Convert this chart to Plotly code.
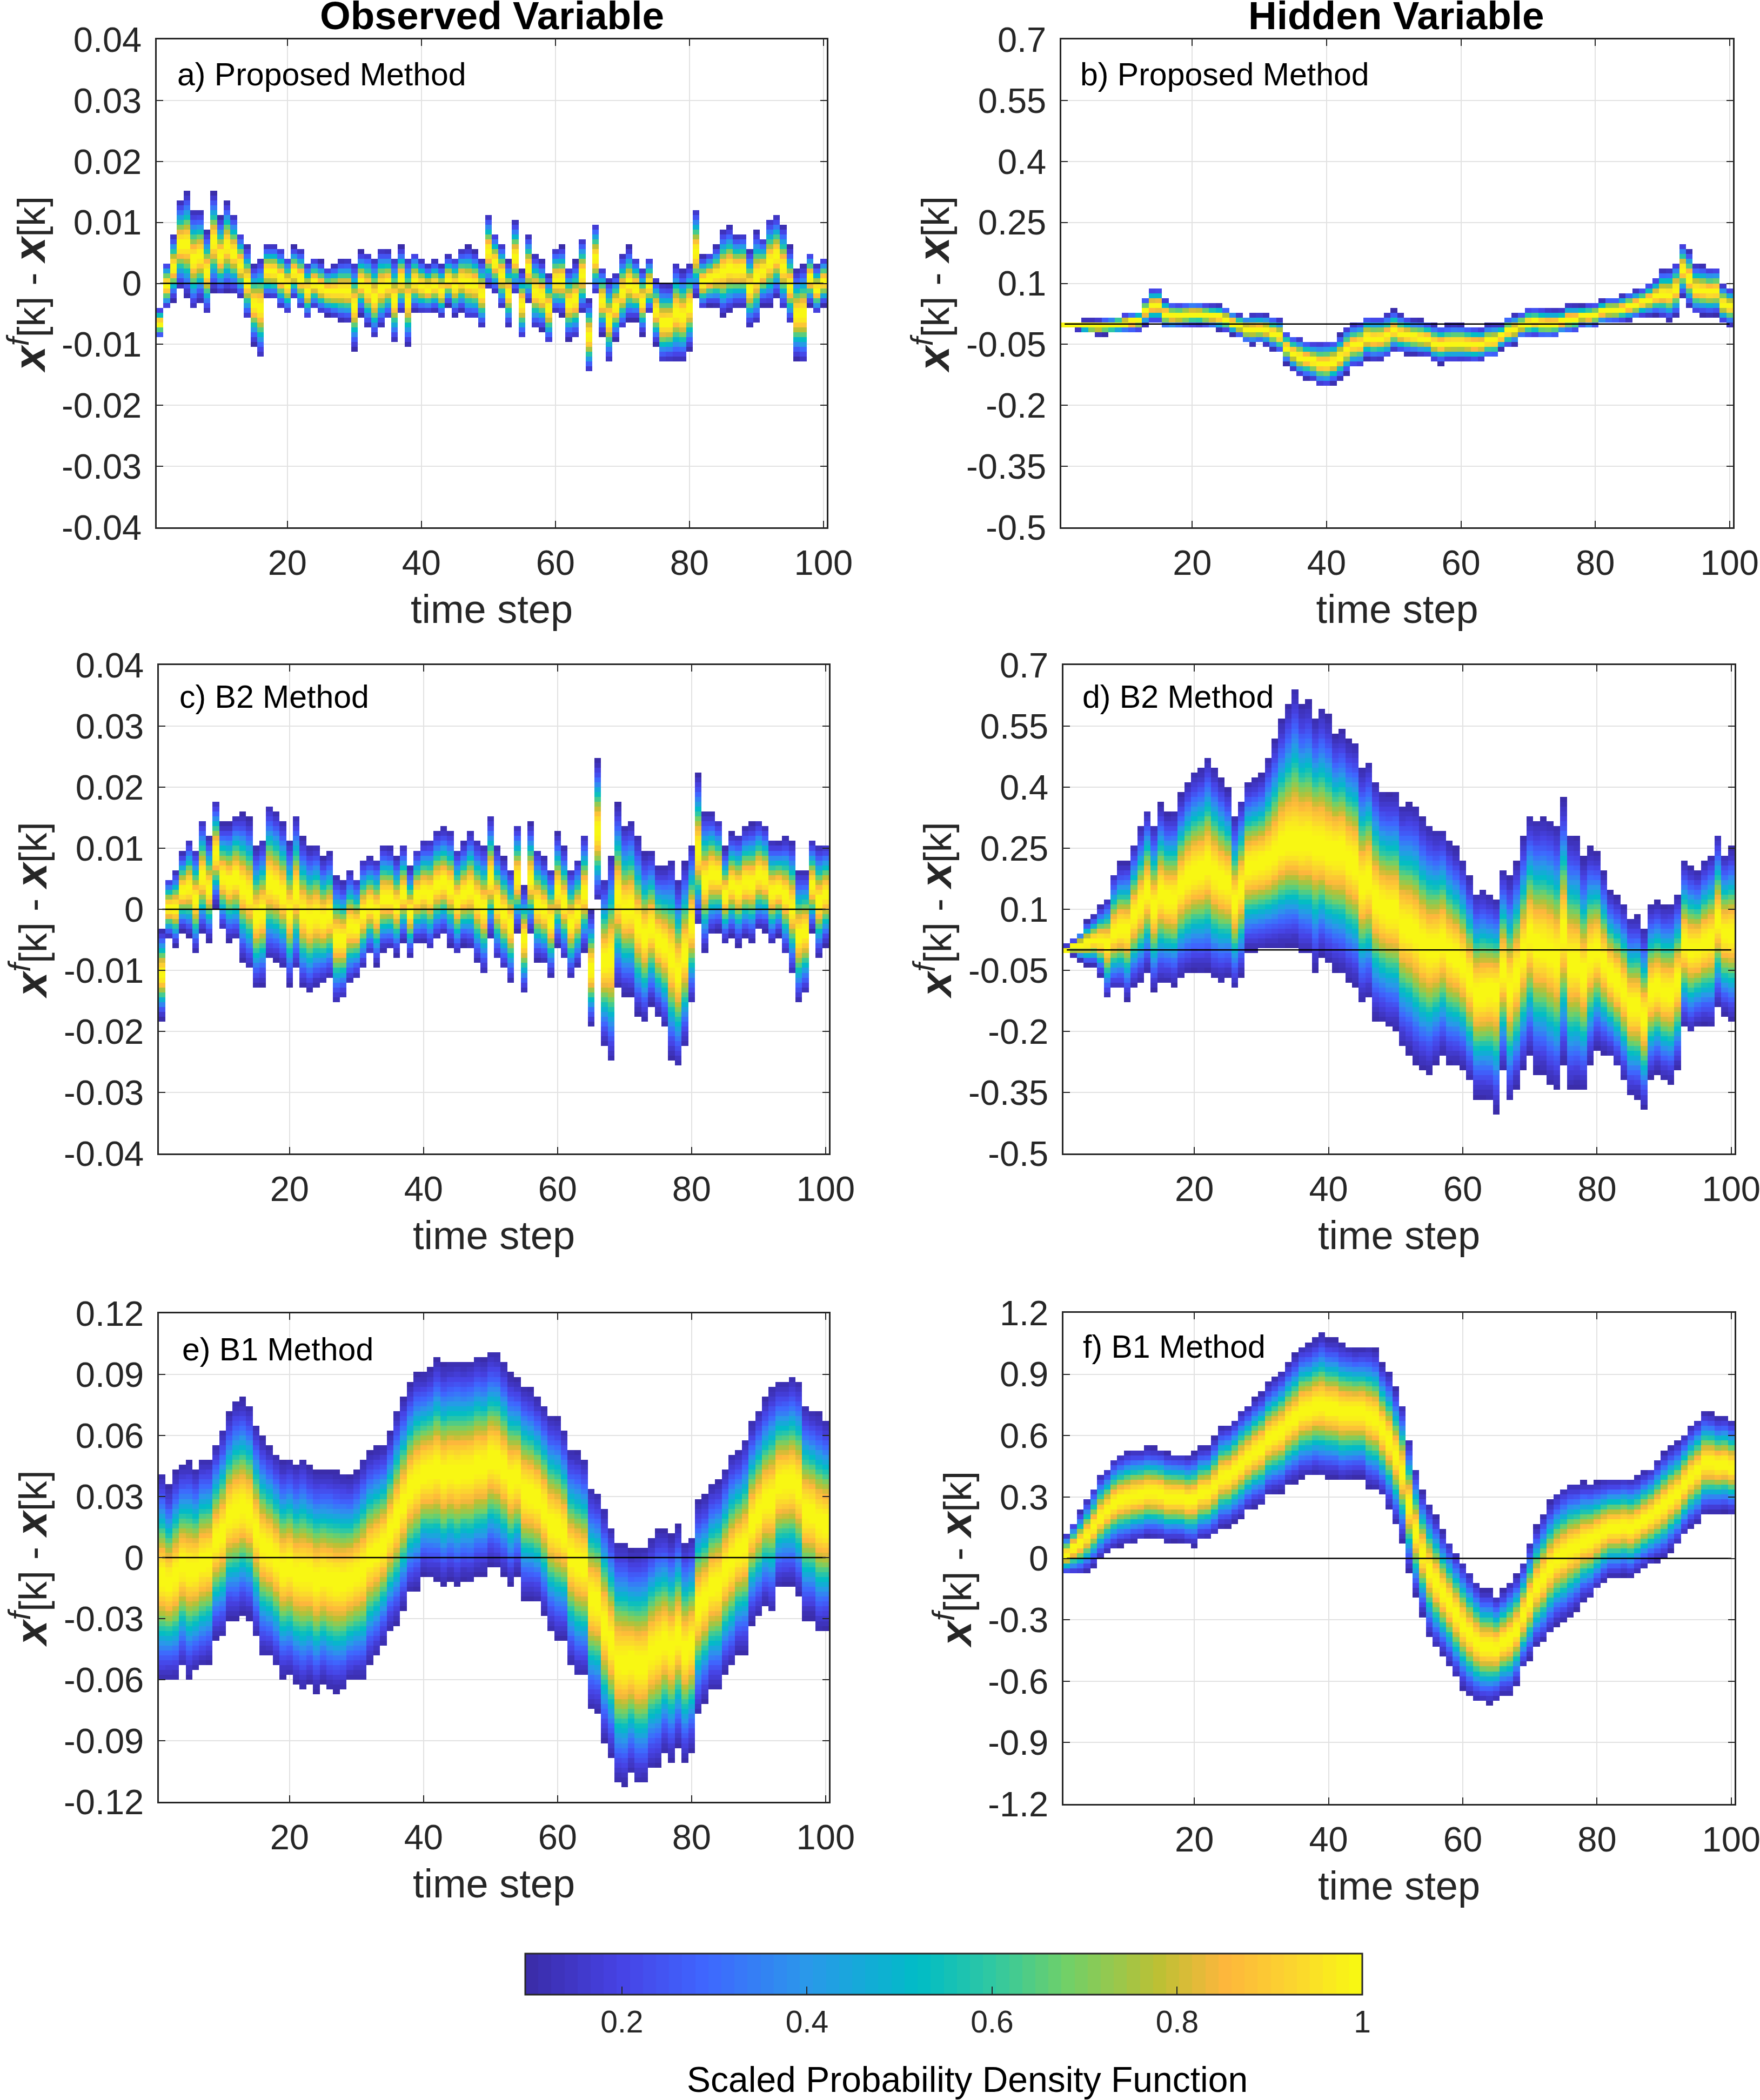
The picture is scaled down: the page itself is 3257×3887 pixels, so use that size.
import numpy as np
import plotly.graph_objects as go

W, H = 3257, 3887
steps = list(range(1, 101))
x_ticks = [20, 40, 60, 80, 100]
zero_x = [1, 100]
zero_y = [0, 0]

# upper / lower edge of the density band at each time step (units of 0.001)
a_hi = [-4,3.5,8,13.7,15,12,12,8.6,14.9,10.9,13.5,11.4,8.4,6.2,3.1,4.2,6.4,6.4,5.8,4.4,6,5.6,3.4,4.2,3.6,2.6,3.1,3.9,4,3.5,5.3,5.2,4.2,5.8,5.6,4.3,6,4.4,5.2,4,3.1,3.8,3.1,4.6,4.3,5.6,6,5.3,4,11.3,8.3,6.6,3.8,10.3,2.2,8,4.7,3.8,1.6,5.8,6.1,2.7,3.6,7.5,-2.6,10,2.7,0.8,1.7,4.8,6,4.3,2.6,4.3,1,0.1,0,3.4,2.2,3.2,12.4,4.5,5.1,6.2,8.9,9.5,8.1,8.3,5.5,8.7,7.5,10.7,11.3,9.5,6,2.2,3,5.2,3,4.2]
a_lo = [-9,-4.2,-2.8,-1,-2.2,-4.2,-3,-4.9,-1.3,-1.9,-1.3,-1.6,-2.5,-5.9,-10,-12.2,-2.5,-2.6,-4.1,-5,-2.5,-4.2,-5.9,-4.1,-4.9,-5.2,-5.7,-6.2,-6.4,-10.9,-5.2,-7.2,-9,-7.2,-5.9,-9.7,-4.9,-10.3,-4.6,-4.9,-4.9,-4.6,-5.6,-3.6,-5.3,-4.6,-5.9,-5.9,-7.3,-0.9,-1.6,-4,-7.1,-1.8,-9.1,-3.2,-7.4,-7.7,-9.9,-4.9,-5.2,-9.3,-9,-4.8,-14.7,-1.8,-8.4,-12.9,-9.3,-7.6,-6.1,-6,-8.4,-4.9,-10,-13.1,-12.9,-12.9,-12.9,-10.9,-2.3,-4.2,-3.6,-3.7,-5.3,-4.6,-3.9,-3.9,-7.1,-6.7,-3.6,-3.7,-2.3,-4.3,-6.7,-12.5,-13,-3.6,-5,-3.6]
b_hi = [6,8,10,11,11,12,15,17,22,26,29,34,66,89,90,63,54,52,54,56,55,51,49,48,42,32,25,22,25,26,24,20,14,-18,-28,-33,-39,-43,-43,-41,-38,-25,-6,4,8,22,20,20,27,35,25,19,13,12,7,0,-3,-1,1,0,-3,-5,-8,0,2,1,21,24,29,41,42,40,38,37,37,49,48,47,51,52,60,66,66,72,79,85,90,102,114,134,136,152,200,181,147,144,139,140,99,90]
b_lo = [-6,-10,-15,-21,-25,-27,-26,-25,-23,-21,-20,-19,-3,2,2,-13,-14,-11,-9,-7,-6,-8,-11,-15,-19,-26,-33,-48,-51,-49,-53,-63,-73,-98,-115,-128,-135,-140,-153,-156,-148,-138,-123,-108,-106,-88,-92,-90,-85,-68,-73,-75,-76,-79,-80,-93,-98,-93,-93,-92,-93,-95,-91,-85,-85,-63,-58,-51,-36,-34,-32,-36,-36,-34,-25,-24,-21,-8,-13,-8,-1,1,2,4,7,11,17,19,22,15,8,19,67,42,24,22,20,22,2,-5]
c_hi = [-3.3,5.2,6.4,9.5,11.5,10,14.7,11.9,17.9,14,14.1,15.5,15.7,14.8,10.3,11.5,17.1,16.1,14.4,11.3,15.4,11.7,10.3,10.8,8.6,9.5,5.5,4.6,6.5,5.2,8.3,8.7,8.3,10.6,10.3,8.6,10.6,7,10,11.3,11.5,12.9,13.4,12.9,9.9,11,12.9,11.4,10.7,15.3,10.3,8.5,6.8,13.9,3.8,14.1,9.9,8.6,6.8,12.5,10.3,6.7,8.2,12.3,-0.3,24.4,5.2,9,17.3,13.8,14.5,11.9,9.3,9.7,7.1,7.2,8.3,4.8,7.8,10.8,22.1,16.1,15.9,14.7,10.1,12.5,12.3,13.6,14,14.7,13.8,11.3,11.1,11.8,11.2,6.5,6.4,11.4,10.6,10.8]
c_lo = [-18,-4.8,-6.1,-3.6,-4.5,-7.1,-4,-5.2,0.4,-3.5,-5.2,-5.1,-8.5,-9.9,-12.9,-12.5,-8.3,-8.6,-9.5,-12.5,-9.9,-12.9,-13.7,-12.7,-12.1,-11.5,-15.3,-14.7,-12.1,-11.3,-9.8,-7.6,-9.3,-7,-6.7,-7.7,-5.5,-7.9,-5.6,-5.5,-6.7,-5,-4.4,-6,-7.6,-6,-6.5,-8.8,-10.6,-4.9,-8.3,-9.9,-12,-3.7,-13.7,-4.2,-8.5,-8.9,-11.1,-6.3,-8.3,-11.3,-9.6,-7,-19.2,1.2,-22.4,-24.9,-13.1,-14,-14.1,-17.2,-18.3,-15.7,-17.5,-19.3,-24.6,-25.8,-22.4,-15.5,-2.6,-7.1,-4.2,-3.6,-5.6,-4.5,-6,-4.8,-5.5,-3.4,-3.6,-5.8,-4.5,-7.5,-10.7,-15.3,-13.9,-3.7,-8,-6]
d_hi = [11,26,46,71,85,108,128,190,215,217,260,302,345,308,358,336,339,382,415,437,447,474,448,422,398,327,369,414,423,432,476,518,565,603,645,603,613,570,596,576,531,542,517,508,449,465,417,389,386,389,356,358,355,325,305,295,298,269,250,220,180,142,150,136,125,201,180,219,279,330,321,325,321,305,371,283,278,226,250,242,193,146,132,113,81,83,52,113,121,110,113,138,219,206,195,218,235,285,237,250]
d_lo = [-7,-15,-27,-39,-40,-65,-119,-97,-97,-123,-92,-79,-57,-102,-80,-82,-90,-67,-60,-52,-55,-54,-74,-79,-72,-95,-64,-5,-5,-2,3,3,5,8,10,-10,-14,-50,-17,-35,-50,-58,-77,-89,-130,-120,-170,-180,-192,-197,-240,-254,-279,-294,-302,-282,-260,-282,-284,-294,-325,-365,-365,-369,-398,-299,-372,-340,-295,-259,-302,-306,-330,-344,-280,-344,-338,-345,-280,-242,-254,-265,-288,-319,-359,-362,-390,-316,-302,-319,-326,-292,-190,-205,-190,-185,-187,-140,-160,-174]
d_peak = [2,5,10,16,22,22,15,40,50,48,84,112,144,103,139,127,125,158,178,190,196,210,187,172,163,116,153,205,209,215,220,235,255,265,265,262,265,260,255,240,240,242,220,210,160,172,125,105,97,96,58,52,38,15,0,5,19,-6,-17,-37,-72,-110,-105,-100,-100,-49,-96,-60,-8,35,10,9,-4,-19,45,-30,-30,-60,-15,0,-30,-60,-78,-103,-139,-139,-169,-101,-90,-104,-106,-77,15,0,2,16,24,72,38,38]
e_hi = [41,35,42,46,47,44,49,49,56,63,71,77,78,75,65,59,55,51,47,49,46,49,45,43,43,43,42,41,40,43,48,52,54,55,62,72,79,86,91,91,93,98,95,96,97,96,97,99,98,101,101,96,90,88,85,83,79,75,70,69,63,53,52,49,34,32,24,15,8,8,4,5,6,10,14,14,11,16,8,10,28,30,36,38,44,51,53,58,67,73,79,84,87,87,89,87,75,73,71,68]
e_lo = [-61,-60,-60,-54,-59,-56,-54,-52,-40,-39,-30,-31,-28,-30,-39,-48,-49,-53,-59,-58,-62,-65,-62,-66,-62,-65,-66,-65,-61,-60,-60,-52,-49,-43,-36,-33,-26,-18,-16,-9,-10,-11,-14,-11,-14,-11,-12,-9,-8.5,-4,-6,-9,-14,-9,-21,-21,-22,-28,-37,-40,-40,-53,-58,-58,-75,-76,-91,-98,-111,-112,-106,-111,-111,-104,-103,-96,-100,-93,-100,-95,-77,-71,-65,-65,-57,-54,-47,-47,-33,-29,-24,-27,-15,-14,-14,-19,-30,-30,-36,-35]
f_hi = [118,177,232,290,348,410,443,489,511,525,533,535,545,541,535,519,515,513,505,517,545,550,590,644,654,680,723,749,785,813,860,886,918,962,997,1043,1051,1075,1099,1073,1073,1053,1043,1033,1035,1037,1021,952,908,833,753,580,437,326,260,205,133,83,34,-16,-68,-115,-155,-155,-185,-155,-115,-81,-16,77,159,217,278,318,346,368,366,375,372,377,384,390,390,396,392,401,425,443,481,521,548,570,610,650,680,717,711,690,694,674]
f_lo = [-80,-80,-80,-66,-40,-6,24,44,60,64,78,85,99,97,91,78,81,79,64,60,89,93,113,149,153,177,197,232,252,262,306,316,322,358,372,395,399,411,397,395,391,377,385,391,393,346,336,302,242,169,83,-66,-185,-280,-380,-439,-477,-523,-582,-636,-672,-698,-707,-711,-697,-668,-668,-622,-538,-493,-433,-409,-364,-328,-314,-284,-254,-211,-195,-155,-119,-95,-95,-85,-95,-72,-50,-30,-16,-2,34,64,113,149,173,213,219,221,227,217]

a_label = "a) Proposed Method"
b_label = "b) Proposed Method"
c_label = "c) B2 Method"
d_label = "d) B2 Method"
e_label = "e) B1 Method"
f_label = "f) B1 Method"

obs_ticks = ["0.04", "0.03", "0.02", "0.01", "0", "-0.01", "-0.02", "-0.03", "-0.04"]
hid_ticks = ["0.7", "0.55", "0.4", "0.25", "0.1", "-0.05", "-0.2", "-0.35", "-0.5"]
e_ticks = ["0.12", "0.09", "0.06", "0.03", "0", "-0.03", "-0.06", "-0.09", "-0.12"]
f_ticks = ["1.2", "0.9", "0.6", "0.3", "0", "-0.3", "-0.6", "-0.9", "-1.2"]
cbar_ticks = [0.2, 0.4, 0.6, 0.8, 1]

CMIN = 0.0955
base = [(0.0955, "#3a2ba6"), (0.2, "#4643e6"), (0.29, "#3f66ff"), (0.4, "#2a98ea"), (0.52, "#00bcc6"),
        (0.6, "#30c8a2"), (0.68, "#70d068"), (0.78, "#bcc034"), (0.85, "#fdb63c"), (0.93, "#fbd72e"), (1.0, "#f8fb10")]


def rgb(h):
    return [int(h[i:i + 2], 16) for i in (1, 3, 5)]


vs = [(v - CMIN) / (1 - CMIN) for v, _ in base]
cols = np.array([rgb(c) for _, c in base], float)
N = 64
scale = []
for i in range(N):
    m = (i + 0.5) / N
    c = [int(round(np.interp(m, vs, cols[:, j]))) for j in range(3)]
    col = f"rgb({c[0]},{c[1]},{c[2]})"
    scale += [[i / N, col], [(i + 1) / N, col]]


def density(hi, lo, peak, y0, y1):
    hi, lo = np.array(hi, float) / 1000, np.array(lo, float) / 1000
    pk = (hi + lo) / 2 if peak is None else np.array(peak, float) / 1000
    dy = (y1 - y0) / 100
    ys = y0 + (np.arange(100) + 0.5) * dy
    z = np.full((100, 100), np.nan)
    for k in range(100):
        su = max(hi[k] - pk[k], 1e-5)
        sl = max(pk[k] - lo[k], 1e-5)
        d = ys - pk[k]
        t = np.abs(np.where(d > 0, d / su, d / sl))
        v = np.exp(-2.3 * t ** 2.0)
        v[(ys > hi[k]) | (ys < lo[k])] = np.nan
        i = int(np.clip(np.floor((pk[k] - y0) / dy), 0, 99))
        v[i] = 1.0
        z[:, k] = v
    return ys, z


panels = [
    dict(hi=a_hi, lo=a_lo, peak=None, yr=(-0.04, 0.04), ticks=obs_ticks, dom=(290, 1530, 73, 976), label=a_label, lx=326, ly=138),
    dict(hi=b_hi, lo=b_lo, peak=None, yr=(-0.5, 0.7), ticks=hid_ticks, dom=(1964, 3207, 73, 976), label=b_label, lx=1997, ly=138),
    dict(hi=c_hi, lo=c_lo, peak=None, yr=(-0.04, 0.04), ticks=obs_ticks, dom=(294, 1534, 1231, 2135), label=c_label, lx=330, ly=1290),
    dict(hi=d_hi, lo=d_lo, peak=d_peak, yr=(-0.5, 0.7), ticks=hid_ticks, dom=(1968, 3210, 1231, 2135), label=d_label, lx=2001, ly=1290),
    dict(hi=e_hi, lo=e_lo, peak=None, yr=(-0.12, 0.12), ticks=e_ticks, dom=(294, 1534, 2431, 3335), label=e_label, lx=335, ly=2498),
    dict(hi=f_hi, lo=f_lo, peak=None, yr=(-1.2, 1.2), ticks=f_ticks, dom=(1968, 3210, 2430, 3339), label=f_label, lx=2002, ly=2493),
]

INK = "#262626"
BX = '<span style="font-size:82px"><b><i>x</i></b></span>'
YTITLE = f'{BX}<sup><span style="font-size:58px"><i>f</i></span></sup>[k] - {BX}[k]'
fig = go.Figure()
layout = dict(
    width=W, height=H, margin=dict(l=0, r=0, t=0, b=0), autosize=False,
    paper_bgcolor="white", plot_bgcolor="white", showlegend=False,
    font=dict(family="Liberation Sans, Arial, sans-serif", color=INK, size=65),
    coloraxis=dict(
        cmin=CMIN, cmax=1, colorscale=scale,
        colorbar=dict(
            orientation="h", x=(972 + 2521) / 2 / W, xanchor="center", y=1 - 3616 / H, yanchor="top",
            len=(2521 - 972) / W, lenmode="fraction", thickness=76, thicknessmode="pixels", xpad=0, ypad=0,
            outlinecolor=INK, outlinewidth=3, ticks="inside", ticklen=16, tickwidth=2, tickcolor=INK,
            tickvals=cbar_ticks, ticktext=[str(t) for t in cbar_ticks], tickfont=dict(size=57, color=INK),
        ),
    ),
    annotations=[],
)

for idx, p in enumerate(panels):
    n = idx + 1
    xa, ya = f"x{n}", f"y{n}"
    ys, z = density(p["hi"], p["lo"], p["peak"], *p["yr"])
    fig.add_trace(go.Heatmap(x=steps, y=ys, z=z, coloraxis="coloraxis", xaxis=xa, yaxis=ya, hoverinfo="skip", zsmooth=False))
    fig.add_trace(go.Scatter(x=zero_x, y=zero_y, mode="lines", line=dict(color="black", width=2.5), xaxis=xa, yaxis=ya, hoverinfo="skip"))
    L, R, T, B = p["dom"]
    tv = list(np.linspace(p["yr"][1], p["yr"][0], len(p["ticks"])))
    common = dict(showline=True, linecolor=INK, linewidth=2.5, mirror="ticks", ticks="inside", ticklen=12, tickwidth=2,
                  tickcolor=INK, showgrid=True, gridcolor="#e2e2e2", gridwidth=2, zeroline=False, automargin=False,
                  tickfont=dict(size=65, color=INK), ticklabeloverflow="allow")
    layout[f"xaxis{n}"] = dict(common, domain=[L / W, R / W], anchor=ya, range=[0.5, 100.5], tickmode="array",
                               tickvals=x_ticks, ticktext=[str(t) for t in x_ticks], ticklabelstandoff=7,
                               title=dict(text="time step", font=dict(size=74, color=INK), standoff=25))
    layout[f"yaxis{n}"] = dict(common, domain=[1 - B / H, 1 - T / H], anchor=xa, range=[p["yr"][0], p["yr"][1]], tickmode="array",
                               tickvals=tv, ticktext=p["ticks"], ticklabelstandoff=12,
                               title=dict(text=YTITLE, font=dict(size=72, color=INK), standoff=8))
    layout["annotations"].append(dict(text=p["label"], x=p["lx"] / W, y=1 - p["ly"] / H, xref="paper", yref="paper",
                                      xanchor="left", yanchor="middle", showarrow=False, font=dict(size=59, color="black")))

for text, cx in (("Observed Variable", 910), ("Hidden Variable", 2584)):
    layout["annotations"].append(dict(text=f"<b>{text}</b>", x=cx / W, y=1 - 29 / H, xref="paper", yref="paper",
                                      xanchor="center", yanchor="middle", showarrow=False, font=dict(size=73, color="black")))
layout["annotations"].append(dict(text="Scaled Probability Density Function", x=1790 / W, y=1 - 3849 / H, xref="paper", yref="paper",
                                  xanchor="center", yanchor="middle", showarrow=False, font=dict(size=66, color="black")))

fig.update_layout(**layout)
fig.write_html("out.html", config=dict(displayModeBar=False), post_script="document.body.style.margin='0';")
